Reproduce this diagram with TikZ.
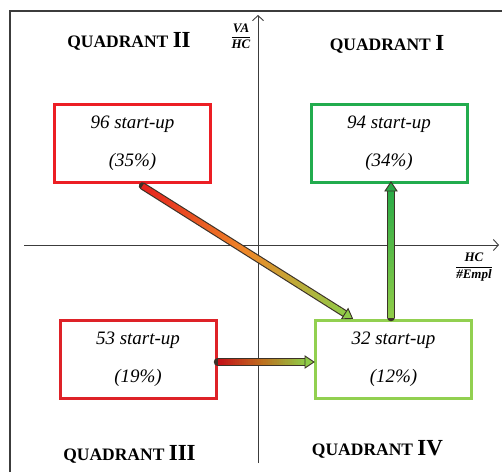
\documentclass[tikz,border=0pt]{standalone}
\usepackage{fontspec}
\setmainfont{Liberation Serif}
\usetikzlibrary{calc,arrows.meta}
\definecolor{boxred}{RGB}{236,30,36}
\definecolor{boxredB}{RGB}{222,34,40}
\definecolor{boxgreen}{RGB}{34,172,78}
\definecolor{boxlgreen}{RGB}{146,208,80}
\definecolor{arrred}{RGB}{230,36,30}
\definecolor{arrdred}{RGB}{196,16,24}
\definecolor{arrorange}{RGB}{238,136,40}
\definecolor{arrolive}{RGB}{190,110,30}
\definecolor{arrlgreen}{RGB}{142,204,72}
\definecolor{arrgreen}{RGB}{40,170,70}
\definecolor{arrowedge}{RGB}{60,50,40}
\definecolor{framecol}{RGB}{60,60,60}
\newcommand{\gradarrow}[5]{%
  \coordinate (ga-s) at #1;
  \coordinate (ga-t) at #2;
  \coordinate (ga-h) at ($(ga-t)!9pt!(ga-s)$);
  \draw[line width=7.5pt, arrowedge, line cap=round] (ga-s) -- (ga-h);
  \foreach \i in {0,...,39}{%
    \pgfmathsetmacro{\ga}{\i/40}%
    \pgfmathsetmacro{\gb}{(\i+1.1)/40}%
    \ifnum\i<20
      \pgfmathtruncatemacro{\gq}{\i*5}%
      \colorlet{gacol}{#4!\gq!#3}%
    \else
      \pgfmathtruncatemacro{\gq}{(\i-20)*5}%
      \colorlet{gacol}{#5!\gq!#4}%
    \fi
    \draw[line width=5.2pt, gacol] ($(ga-s)!\ga!(ga-h)$) -- ($(ga-s)!\gb!(ga-h)$);
  }
  \filldraw[fill=#5, draw=arrowedge, line width=0.9pt, line join=miter]
    ($(ga-h)!6pt!90:(ga-t)$) -- (ga-t) -- ($(ga-h)!6pt!-90:(ga-t)$) -- cycle;
}
\begin{document}
\begin{tikzpicture}[x=1pt,y=-1pt,
  stbox/.style={draw, line width=3pt, minimum width=156pt, minimum height=78pt,
    inner sep=0pt, align=center, font=\fontsize{19}{24}\selectfont\itshape},
  quad/.style={anchor=base, inner sep=0pt, font=\fontsize{17.5}{18}\selectfont\bfseries},
  axis/.style={draw=framecol, line width=0.9pt, -{Straight Barb[length=5pt,width=11pt]}},
  axlab/.style={inner sep=0pt, font=\fontsize{13}{13}\selectfont\bfseries\itshape}]
\useasboundingbox (0,0) rectangle (502,472);

% frame
\coordinate (fb) at (10,472);
\coordinate (fc) at (10,11);
\coordinate (fr) at (502,11);
\draw[framecol, line width=1.3pt] (fb) -- (fc) -- (fr);

% axes
\coordinate (xl) at (24,245);
\coordinate (xr) at (499,245);
\coordinate (yb) at (258,463);
\coordinate (yt) at (258,15);
\draw[axis] (xl) -- (xr);
\draw[axis] (yb) -- (yt);

% axis labels
\node[axlab] (lva) at (241,36) {$\displaystyle\frac{\textbf{\textit{VA}}}{\textbf{\textit{HC}}}$};
\node[axlab] (lhc) at (474,267) {$\displaystyle\frac{\textbf{\textit{HC}}}{\textbf{\textit{\#Empl}}}$};

% quadrant labels
\node[quad] (q2) at (129,47) {QUADRANT {\fontsize{23}{23}\selectfont II}};
\node[quad] (q1) at (387,50) {QUADRANT {\fontsize{23}{23}\selectfont I}};
\node[quad] (q3) at (129.5,460) {QUADRANT {\fontsize{23}{23}\selectfont III}};
\node[quad] (q4) at (377.5,455) {QUADRANT {\fontsize{23}{23}\selectfont IV}};

% boxes
\node[stbox, draw=boxred, fill=white] (b96) at (132.5,143.5) {96 start-up\\[14pt](35\%)};
\node[stbox, draw=boxgreen, fill=white] (b94) at (389,143.5) {94 start-up\\[14pt](34\%)};
\node[stbox, draw=boxredB, fill=white] (b53) at (138,359) {53 start-up\\[14pt](19\%)};
\node[stbox, draw=boxlgreen, fill=white] (b32) at (393.5,359) {32 start-up\\[14pt](12\%)};

% arrows
\gradarrow{($(b96.south)+(10,2)$)}{($(b32.north)+(-41,0)$)}{arrred}{arrorange}{arrlgreen}
\gradarrow{($(b53.east)+(0,3)$)}{($(b32.west)+(0,3)$)}{arrdred}{arrolive}{arrlgreen}
\gradarrow{($(b32.north)+(-2.5,-1)$)}{($(b94.south)+(2,-2)$)}{arrlgreen}{arrlgreen!50!arrgreen}{arrgreen}
\end{tikzpicture}
\end{document}
